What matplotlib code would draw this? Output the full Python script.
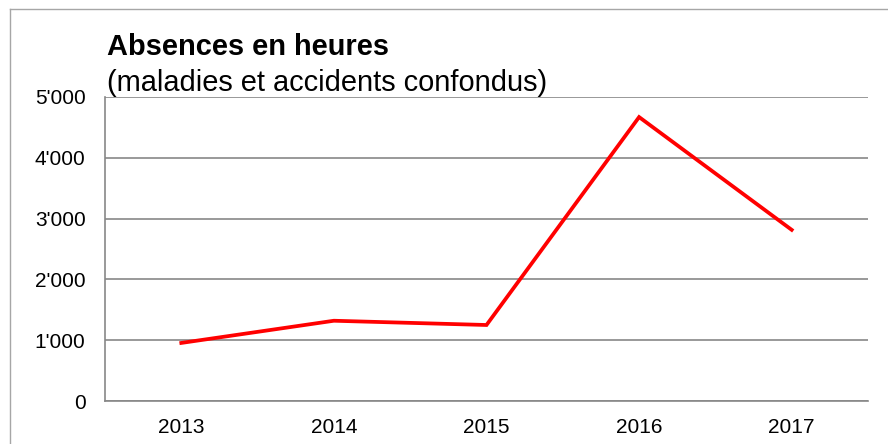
import matplotlib.pyplot as plt
from matplotlib.lines import Line2D
from matplotlib.ticker import FuncFormatter

plt.rcParams['font.family'] = ['Liberation Sans', 'DejaVu Sans']

years = ['2013', '2014', '2015', '2016', '2017']
heures = [955, 1320, 1250, 4670, 2815]
yticks = [0, 1000, 2000, 3000, 4000, 5000]

W, H = 888, 444
fig = plt.figure(figsize=(W / 100, H / 100), dpi=100)
ax = fig.add_axes([105 / W, 1 - 401 / H, (868 - 105) / W, (401 - 97) / H])

ax.plot(range(len(years)), heures, color='#ff0000', lw=2.7, solid_joinstyle='miter')

ax.set_xlim(-0.5, len(years) - 0.5)
ax.set_ylim(0, 5000)
ax.set_xticks(range(len(years)))
ax.set_xticklabels(years)
ax.set_yticks(yticks)
ax.yaxis.set_major_formatter(FuncFormatter(lambda v, p: f"{int(v):,}".replace(',', "'")))
ax.tick_params(axis='both', length=0, labelsize=15, colors='black')
ax.tick_params(axis='y', pad=14)
ax.tick_params(axis='x', pad=12)

ax.grid(axis='y', color='#878787', lw=1.2)
ax.set_axisbelow(True)
for s in ['top', 'right']:
    ax.spines[s].set_visible(False)
for s in ['left', 'bottom']:
    ax.spines[s].set_color('#878787')
    ax.spines[s].set_linewidth(1.2)

# titre et sous-titre
fig.text(107 / W, 1 - 55 / H, 'Absences en heures', fontsize=20.9,
         fontweight='bold', va='baseline', ha='left')
fig.text(107 / W, 1 - 91 / H, '(maladies et accidents confondus)', fontsize=20.9,
         va='baseline', ha='left')

# cadre du graphique
fig.add_artist(Line2D([10 / W, 10 / W], [0, 1 - 9.5 / H], color='#a6a6a6', lw=1.0))
fig.add_artist(Line2D([10 / W, 1], [1 - 9.5 / H, 1 - 9.5 / H], color='#a6a6a6', lw=1.0))

fig.savefig('out.png', dpi=100)
